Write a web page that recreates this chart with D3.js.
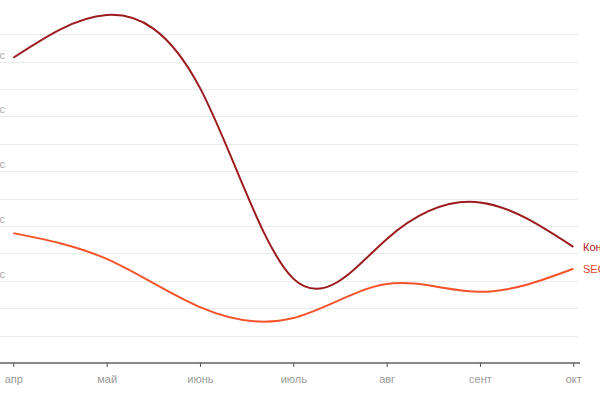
<!DOCTYPE html>
<html>
<head>
<meta charset="utf-8">
<script src="https://d3js.org/d3.v7.min.js"></script>
<style>
  body { margin: 0; background: #fff; }
  svg { font-family: "Helvetica Neue", "Liberation Sans", Arial, sans-serif; }
  .grid line { stroke: #ebebeb; stroke-width: 1; }
  .ylabel { fill: #aaa; font-size: 11px; }
  .x.axis path { stroke: #888; stroke-width: 2; }
  .x.axis line { stroke: #555; }
  .x.axis text { fill: #999; font-size: 11px; }
</style>
</head>
<body>
<script>
var months = ['апр', 'май', 'июнь', 'июль', 'авг', 'сент', 'окт'];
var conversions = [5570, 6350, 5020, 1540, 2260, 2930, 2120];
var seo = [2370, 1900, 1020, 820, 1440, 1300, 1720];
var gridValues = [500, 1000, 1500, 2000, 2500, 3000, 3500, 4000, 4500, 5000, 5500, 6000];
var labelValues = [1500, 2500, 3500, 4500, 5500];
var seriesNames = ['Конверсии', 'SEO'];

var w = 600;
var h = 400;

var svg = d3.select('body').append('svg')
            .attr('id', 'chart')
            .attr('width', w)
            .attr('height', h)

var x = d3.scalePoint()
          .domain(months)
          .range([13.3, 573.3])
var y = d3.scaleLinear()
          .domain([0, 6000])
          .range([363, 34.2])

// grid
svg.append('g')
    .classed('grid', true)
    .selectAll('line')
    .data(gridValues)
    .enter()
      .append('line')
      .attr('x1', 0)
      .attr('x2', 578)
      .attr('y1', function(d){ return Math.round(y(d)) + 0.5 })
      .attr('y2', function(d){ return Math.round(y(d)) + 0.5 })

// labels sit partly outside the left edge, as in the original
svg.selectAll('.ylabel')
    .data(labelValues)
    .enter()
      .append('text')
      .classed('ylabel', true)
      .attr('x', 5)
      .attr('y', function(d){ return y(d) - 3 })
      .attr('text-anchor', 'end')
      .text(function(d){ return (d / 1000).toString().replace('.', ',') + ' тыс' })

var xAxis = d3.axisBottom(x)
              .tickSize(4)
              .tickPadding(8)

svg.append('g')
    .classed('x axis', true)
    .attr('transform', 'translate(0,363)')
    .call(xAxis)
    .call(function(g){
      g.select('.domain').attr('d', 'M0,0H580')
    })

var line = d3.line()
             .x(function(d, i){ return x(months[i]) })
             .y(function(d){ return y(d) })
             .curve(d3.curveNatural)

function plotLine(params){
  svg.append('path')
      .datum(params.data)
      .attr('fill', 'none')
      .attr('stroke', params.color)
      .attr('stroke-width', 2)
      .attr('d', line)
  svg.append('text')
      .attr('x', 583)
      .attr('y', y(params.data[params.data.length - 1]) + 4)
      .attr('fill', params.labelColor)
      .style('font-size', '11px')
      .text(params.name)
}

plotLine({ data: conversions, color: '#9b1b1f', labelColor: '#b3161c', name: seriesNames[0] })
plotLine({ data: seo, color: '#f5532b', labelColor: '#e8452a', name: seriesNames[1] })
</script>
</body>
</html>
